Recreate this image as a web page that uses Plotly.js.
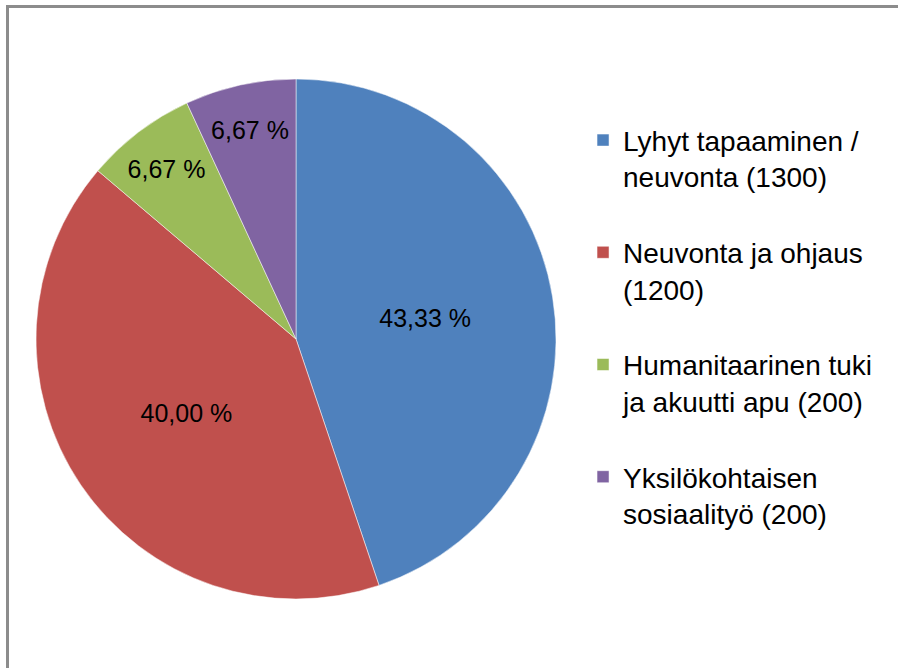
<!DOCTYPE html>
<html>
<head>
<meta charset="utf-8">
<script src="https://cdn.plot.ly/plotly-3.0.1.min.js"></script>
<style>
  html, body { margin: 0; padding: 0; background: #fff; overflow: hidden; }
  #chart { width: 898px; height: 668px; position: absolute; left: 0; top: 0; }
  #frame { position: absolute; left: 6px; top: 5px; width: 900px; height: 700px;
           border-left: 3px solid #8c8c8c; border-top: 3px solid #8c8c8c; pointer-events: none; }
</style>
</head>
<body>
<div id="chart"></div>
<div id="frame"></div>
<script>
const categories = [
  "Lyhyt tapaaminen /<br>neuvonta (1300)<br> ",
  "Neuvonta ja ohjaus<br>(1200)<br> ",
  "Humanitaarinen tuki<br>ja akuutti apu (200)<br> ",
  "Yksilökohtaisen<br>sosiaalityö (200)<br> "
];
const values = [1300, 1200, 200, 200];
const labelPercent = [43.33, 40.00, 6.67, 6.67];
const colors = ["#4F81BD", "#C0504D", "#9BBB59", "#8064A2"];

const labelsText = labelPercent.map(p => p.toFixed(2).replace('.', ',') + ' %');

const data = [{
  type: 'pie',
  labels: categories,
  values: values,
  text: labelsText,
  textinfo: 'text',
  textposition: 'inside',
  insidetextorientation: 'horizontal',
  textfont: { family: 'Liberation Sans, Arial, sans-serif', size: 25, color: '#000' },
  marker: { colors: colors, line: { color: '#ffffff', width: 0.5 } },
  sort: false,
  direction: 'clockwise',
  rotation: 0,
  hoverinfo: 'none'
}];

const layout = {
  width: 898, height: 668,
  margin: { l: 36, r: 342, t: 79, b: 69 },
  paper_bgcolor: '#ffffff',
  showlegend: true,
  legend: {
    x: 1.052, y: 0.93, xanchor: 'left', yanchor: 'top',
    valign: 'top',
    font: { family: 'Liberation Sans, Arial, sans-serif', size: 28, color: '#000' },
    itemwidth: 30,
    traceorder: 'normal'
  }
};

Plotly.newPlot('chart', data, layout, { displayModeBar: false, staticPlot: true });
</script>
</body>
</html>
